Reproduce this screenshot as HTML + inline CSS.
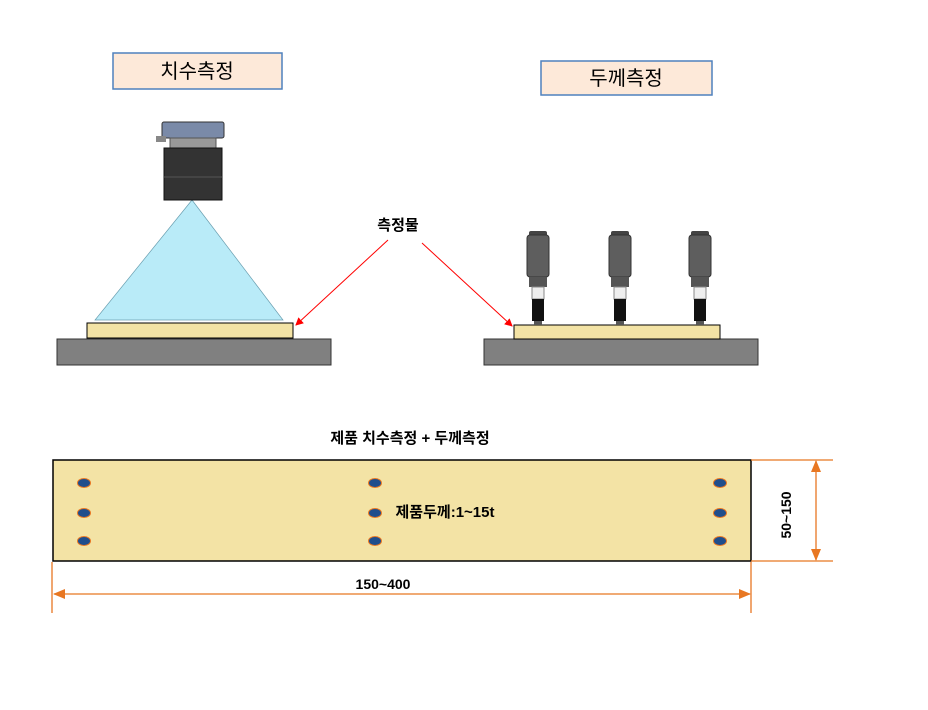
<!DOCTYPE html>
<html><head><meta charset="utf-8"><style>body{margin:0;background:#fff}svg{display:block}text{font-family:"Liberation Sans","Noto Sans CJK KR",sans-serif}</style></head>
<body>
<svg width="928" height="710" viewBox="0 0 928 710" xmlns="http://www.w3.org/2000/svg">
<defs>
<marker id="ra" markerWidth="8" markerHeight="8" refX="7" refY="4" orient="auto" markerUnits="userSpaceOnUse"><path d="M0,0 L8,4 L0,8z" fill="#f00"/></marker>
<marker id="oa" markerWidth="12" markerHeight="10" refX="11" refY="5" orient="auto" markerUnits="userSpaceOnUse"><path d="M0,0 L12,5 L0,10z" fill="#e87722"/></marker>
<g id="sensor">
<rect x="-9" y="0" width="18" height="6" rx="2" fill="#444"/>
<rect x="-11" y="4" width="22" height="42" rx="3" fill="#5e5e5e" stroke="#333"/>
<rect x="-9" y="46" width="18" height="10" fill="#555"/>
<rect x="-6" y="56" width="12" height="12" fill="#eee" stroke="#888"/>
<rect x="-6" y="68" width="12" height="22" fill="#111"/>
<rect x="-4" y="90" width="8" height="4" fill="#555"/>
</g>
</defs>
<rect x="113" y="53" width="169" height="36" fill="#fde9d9" stroke="#4f81bd" stroke-width="1.5"/>
<text x="197" y="78" font-size="20" text-anchor="middle">치수측정</text>
<rect x="541" y="61" width="171" height="34" fill="#fde9d9" stroke="#4f81bd" stroke-width="1.5"/>
<text x="626" y="85" font-size="20" text-anchor="middle">두께측정</text>
<polygon points="192,200 95,320 283,320" fill="#b9ebf8" stroke="#6a9fb0" stroke-width="0.7"/>
<rect x="162" y="122" width="62" height="16" rx="2" fill="#7a8aa8" stroke="#333"/>
<rect x="156" y="136" width="10" height="6" fill="#888"/>
<rect x="170" y="138" width="46" height="10" fill="#999" stroke="#555"/>
<rect x="164" y="148" width="58" height="52" fill="#333" stroke="#111"/>
<line x1="164" y1="177" x2="222" y2="177" stroke="#555"/>
<rect x="57" y="339" width="274" height="26" fill="#808080" stroke="#333"/>
<rect x="87" y="323" width="206" height="15" fill="#f3e3a5" stroke="#000"/>
<rect x="484" y="339" width="274" height="26" fill="#808080" stroke="#333"/>
<rect x="514" y="325" width="206" height="14" fill="#f3e3a5" stroke="#000"/>
<use href="#sensor" x="538" y="231"/>
<use href="#sensor" x="620" y="231"/>
<use href="#sensor" x="700" y="231"/>
<text x="398" y="230" font-size="15" font-weight="bold" text-anchor="middle">측정물</text>
<line x1="388" y1="240" x2="296" y2="325" stroke="#f00" marker-end="url(#ra)"/>
<line x1="422" y1="243" x2="512" y2="326" stroke="#f00" marker-end="url(#ra)"/>
<text x="410" y="443" font-size="15" font-weight="bold" text-anchor="middle">제품 치수측정 + 두께측정</text>
<rect x="53" y="460" width="698" height="101" fill="#f3e3a5" stroke="#000" stroke-width="1.5"/>
<g fill="#1f4e8c" stroke="#e87722" stroke-width="1">
<ellipse cx="84" cy="483" rx="6.5" ry="4.5"/><ellipse cx="84" cy="513" rx="6.5" ry="4.5"/><ellipse cx="84" cy="541" rx="6.5" ry="4.5"/>
<ellipse cx="375" cy="483" rx="6.5" ry="4.5"/><ellipse cx="375" cy="513" rx="6.5" ry="4.5"/><ellipse cx="375" cy="541" rx="6.5" ry="4.5"/>
<ellipse cx="720" cy="483" rx="6.5" ry="4.5"/><ellipse cx="720" cy="513" rx="6.5" ry="4.5"/><ellipse cx="720" cy="541" rx="6.5" ry="4.5"/>
</g>
<text x="445" y="517" font-size="15" font-weight="bold" text-anchor="middle">제품두께:1~15t</text>
<g stroke="#e87722" stroke-width="1.3" fill="none">
<line x1="52" y1="562" x2="52" y2="613"/>
<line x1="751" y1="562" x2="751" y2="613"/>
<line x1="751" y1="460" x2="833" y2="460"/>
<line x1="751" y1="561" x2="833" y2="561"/>
<line x1="400" y1="594" x2="54" y2="594" marker-end="url(#oa)"/>
<line x1="400" y1="594" x2="750" y2="594" marker-end="url(#oa)"/>
<line x1="816" y1="510" x2="816" y2="461" marker-end="url(#oa)"/>
<line x1="816" y1="510" x2="816" y2="560" marker-end="url(#oa)"/>
</g>
<text x="383" y="589" font-size="14" font-weight="bold" text-anchor="middle">150~400</text>
<text transform="translate(791,515) rotate(-90)" font-size="14" font-weight="bold" text-anchor="middle">50~150</text>
</svg>
</body></html>
